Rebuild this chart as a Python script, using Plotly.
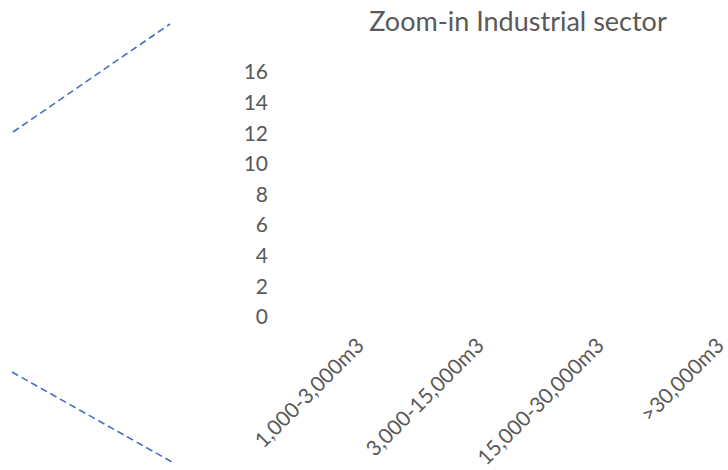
import plotly.graph_objects as go

# Categories (storage size bands) and the industrial-sector values
categories = ["1,000-3,000m3", "3,000-15,000m3", "15,000-30,000m3", ">30,000m3"]
industrial = [0, 0, 0, 0]
y_ticks = [0, 2, 4, 6, 8, 10, 12, 14, 16]

W, H = 728, 470
ML, MR, MT, MB = 298, 0, 72, 153
PW, PH = W - ML - MR, H - MT - MB
CAT_W = 120  # pixel width of one category band

GREY = "#595959"
BLUE = "#4472C4"
FONT = "Lato"


def to_paper(px, py):
    """Convert page pixel position to paper coordinates of the plot area."""
    return (px - ML) / PW, (H - MB - py) / PH


fig = go.Figure(
    go.Bar(
        x=categories,
        y=industrial,
        marker=dict(color=BLUE, line=dict(width=0)),
        showlegend=False,
    )
)

# Dashed connector lines pointing from the parent chart to this zoom-in
connectors = [((13, 132), (170, 24)), ((12, 372), (172, 462))]
for (x0, y0), (x1, y1) in connectors:
    px0, py0 = to_paper(x0, y0)
    px1, py1 = to_paper(x1, y1)
    fig.add_shape(
        type="line", xref="paper", yref="paper",
        x0=px0, y0=py0, x1=px1, y1=py1,
        line=dict(color=BLUE, width=1.6, dash="7px,4px"),
    )

fig.update_layout(
    width=W, height=H,
    margin=dict(l=ML, r=MR, t=MT, b=MB, pad=0, autoexpand=False),
    paper_bgcolor="white", plot_bgcolor="white",
    font=dict(family=FONT, color=GREY),
    title=dict(
        text="Zoom-in Industrial sector",
        x=518 / W, xanchor="center", xref="container",
        y=1 - 22 / H, yanchor="middle", yref="container",
        font=dict(family=FONT, size=27, color=GREY),
    ),
    xaxis=dict(
        type="category",
        range=[-0.5, -0.5 + PW / CAT_W],
        tickangle=-45,
        tickfont=dict(family=FONT, size=21, color=GREY),
        showgrid=False, showline=False, zeroline=False, ticks="",
        ticklabelstandoff=11, automargin=False,
    ),
    yaxis=dict(
        range=[0, 16],
        tickvals=y_ticks,
        tickfont=dict(family=FONT, size=21, color=GREY),
        showgrid=False, showline=False, zeroline=False, ticks="",
        ticklabelstandoff=29, automargin=False,
    ),
)

fig.write_html("out.html")
